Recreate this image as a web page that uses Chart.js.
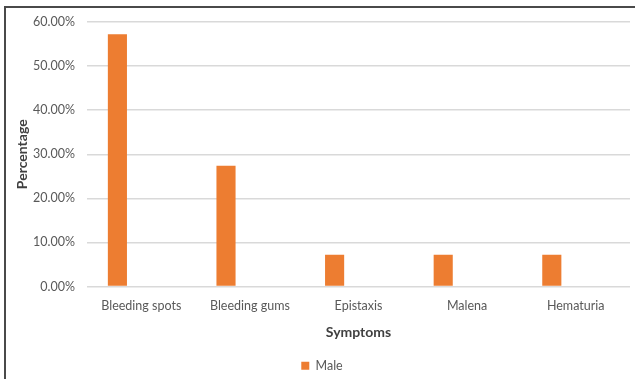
<!DOCTYPE html>
<html>
<head>
<meta charset="utf-8">
<script src="https://cdn.jsdelivr.net/npm/chart.js@4/dist/chart.umd.min.js"></script>
<style>
  html, body { margin: 0; padding: 0; background: #ffffff; }
  #wrap { position: relative; width: 635px; height: 379px; }
  #frame {
    position: absolute; left: 4px; top: 6px; right: 0; bottom: 0;
    border-left: 2px solid #4a4a4a; border-top: 2px solid #4a4a4a;
    pointer-events: none;
  }
  canvas { position: absolute; left: 0; top: 0; }
</style>
</head>
<body>
<div id="wrap">
  <canvas id="chart" width="635" height="379"></canvas>
  <div id="frame"></div>
</div>
<script>
// Symptom categories and share of male patients (%)
const symptoms = ["Bleeding spots", "Bleeding gums", "Epistaxis", "Malena", "Hematuria"];
const maleValues = [57.2, 27.4, 7.2, 7.2, 7.2];
// Second series slot of the grouped layout; no values reported
const femaleValues = [null, null, null, null, null];
const yTicks = [0, 10, 20, 30, 40, 50, 60];

const gray = "#595959";
const fontFamily = "Lato, 'Open Sans', sans-serif";

new Chart(document.getElementById("chart"), {
  type: "bar",
  data: {
    labels: symptoms,
    datasets: [
      {
        label: "Male",
        data: maleValues,
        backgroundColor: "#ED7D31",
        borderWidth: 0,
        categoryPercentage: 0.88,
        barPercentage: 0.4
      },
      {
        label: "Female",
        data: femaleValues,
        backgroundColor: "#A5A5A5",
        borderWidth: 0,
        categoryPercentage: 0.88,
        barPercentage: 0.4
      }
    ]
  },
  options: {
    responsive: false,
    animation: false,
    layout: { padding: { left: 14, right: 5, top: 22, bottom: -3 } },
    plugins: {
      tooltip: { enabled: false },
      legend: {
        position: "bottom",
        labels: {
          filter: (item) => item.text === "Male",
          boxWidth: 8,
          boxHeight: 8,
          padding: 7,
          color: gray,
          font: { family: fontFamily, size: 12.5 }
        }
      }
    },
    scales: {
      x: {
        grid: { display: false },
        border: { display: false },
        ticks: {
          color: gray,
          font: { family: fontFamily, size: 12.5 },
          maxRotation: 0,
          padding: 4
        },
        title: {
          display: true,
          text: "Symptoms",
          color: "#404040",
          font: { family: fontFamily, size: 14, weight: "bold" },
          padding: { top: 4, bottom: 12 }
        },
        afterFit: (scale) => { scale.height = 66; }
      },
      y: {
        min: 0,
        max: 60,
        afterBuildTicks: (scale) => { scale.ticks = yTicks.map(v => ({ value: v })); },
        grid: { color: "#d9d9d9", lineWidth: 1.5, drawTicks: false },
        border: { display: false },
        ticks: {
          color: gray,
          font: { family: fontFamily, size: 12.5 },
          padding: 12,
          callback: (v) => v.toFixed(2) + "%"
        },
        title: {
          display: true,
          text: "Percentage",
          color: "#404040",
          font: { family: fontFamily, size: 14, weight: "bold" },
          padding: { top: 0, bottom: 0 }
        },
        afterFit: (scale) => { scale.width = 73; }
      }
    }
  }
});
</script>
</body>
</html>
